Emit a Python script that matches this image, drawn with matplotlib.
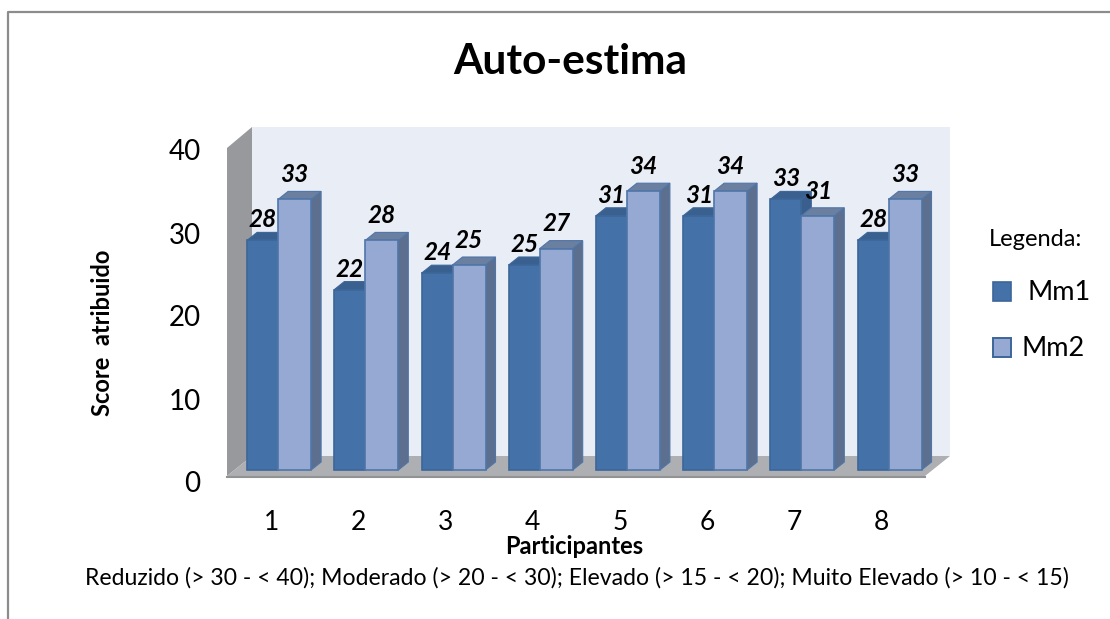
#!/usr/bin/env python3

import matplotlib
matplotlib.use("Agg")
import matplotlib.pyplot as plt
from matplotlib.patches import Polygon, Rectangle

W, H = 1110, 619

participants = [1, 2, 3, 4, 5, 6, 7, 8]
mm1 = [28, 22, 24, 25, 31, 31, 33, 28]
mm2 = [33, 28, 25, 27, 34, 34, 31, 33]
y_ticks = [0, 10, 20, 30, 40]

title = "Auto-estima"
x_title = "Participantes"
y_title = "Score  atribuido"
footnote = "Reduzido (> 30 - < 40); Moderado (> 20 - < 30); Elevado (> 15 - < 20); Muito Elevado (> 10 - < 15)"
legend_title = "Legenda:"
series_names = ["Mm1", "Mm2"]

FONT = "Lato"
plt.rcParams["font.family"] = [FONT, "DejaVu Sans"]

# pixel sizes
PX_UNIT_X = 87.2
PX_UNIT_Y = 8.2
DEPTH_X = 10
DEPTH_Y = 8
BAR_W1 = 31 / PX_UNIT_X
BAR_W2 = 33 / PX_UNIT_X

fig = plt.figure(figsize=(W / 100, H / 100), dpi=100)
fig.patch.set_facecolor("white")


def px_axes(left, top, right, bottom, **kw):
    # axes placed with pixel coordinates of the picture
    return fig.add_axes([left / W, 1 - bottom / H, (right - left) / W, (bottom - top) / H], **kw)


# background layer in pixels: frame and 3d walls
bg = px_axes(0, 0, W, H)
bg.set_xlim(0, W)
bg.set_ylim(H, 0)
bg.axis("off")
bg.plot([7.5, 7.5, W], [H, 12, 12], color="#8c8c8c", lw=1.6)
bg.add_patch(Polygon([(252, 127), (950, 127), (950, 456), (252, 456)], fc="#e9edf6", ec="none"))
bg.add_patch(Polygon([(227, 148), (252, 127), (252, 456), (227, 476)], fc="#97999c", ec="none"))
bg.add_patch(Polygon([(227, 476), (252, 456), (950, 456), (925, 476)], fc="#adafb2", ec="none"))
bg.plot([227, 925], [476.5, 476.5], color="#909294", lw=1.5)

# data layer, one x unit is one participant, y is the score
ax = px_axes(234.5, 142, 932.1, 470)
ax.patch.set_alpha(0)
ax.set_xlim(0.5, 8.5)
ax.set_ylim(0, 40)
for s in ax.spines.values():
    s.set_visible(False)
ax.set_yticks([])
ax.set_xticks([p - 0.08 for p in participants])
ax.set_xticklabels(participants, fontsize=19, color="black")
ax.tick_params(axis="x", length=0, pad=28.5)

dx = DEPTH_X / PX_UNIT_X
dy = DEPTH_Y / PX_UNIT_Y


def draw_bar(x0, w, v, front, side, top, edge):
    base = [(x0 + w, 0), (x0 + w + dx, dy), (x0 + w + dx, v + dy), (x0 + w, v)]
    ax.add_patch(Polygon(base, fc=side, ec=edge, lw=0.8, clip_on=False))
    lid = [(x0, v), (x0 + dx, v + dy), (x0 + w + dx, v + dy), (x0 + w, v)]
    ax.add_patch(Polygon(lid, fc=top, ec=edge, lw=0.8, clip_on=False))
    ax.add_patch(Rectangle((x0, 0), w, v, fc=front, ec=edge, lw=1.2, clip_on=False))


for p, a, b in zip(participants, mm1, mm2):
    draw_bar(p - BAR_W1, BAR_W1, a, "#4472a8", "#3a5f8e", "#3a6090", "#3c6699")
    draw_bar(p, BAR_W2, b, "#95a9d3", "#5d6f8f", "#6b7fa0", "#4f76a8")

for p, a, b in zip(participants, mm1, mm2):
    ax.text(p - BAR_W1 + 0.18, a + 1.1, str(a), ha="center", va="bottom", fontsize=17.5,
            fontweight="bold", fontstyle="italic", color="black", zorder=5)
    ax.text(p + 0.19, b + 1.6, str(b), ha="center", va="bottom", fontsize=17.5,
            fontweight="bold", fontstyle="italic", color="black", zorder=5)

# value axis labels sit on the front edge of the left wall
ay = px_axes(227, 150, 228, 482)
ay.patch.set_alpha(0)
ay.set_ylim(0, 40)
ay.set_xticks([])
ay.set_yticks(y_ticks)
ay.set_yticklabels(y_ticks, fontsize=20, color="black")
ay.tick_params(axis="y", length=0, pad=19)
for s in ay.spines.values():
    s.set_visible(False)

fig.text(570 / W, 1 - 62 / H, title, ha="center", va="center", fontsize=30.5, fontweight="bold")
fig.text(574 / W, 1 - 546 / H, x_title, ha="center", va="center", fontsize=17, fontweight="bold")
fig.text(103 / W, 1 - 333 / H, y_title, ha="center", va="center", rotation=90, fontsize=17, fontweight="bold")
fig.text(577 / W, 1 - 578 / H, footnote, ha="center", va="center", fontsize=16.6)

# legend
bg.text(1036, 240, legend_title, ha="center", va="center", fontsize=17)
bg.add_patch(Rectangle((993, 282), 18, 19, fc="#4472a8", ec="#3c6699", lw=1.2))
bg.add_patch(Rectangle((993, 338), 18, 19, fc="#95a9d3", ec="#3c6699", lw=1.4))
bg.text(1027, 292, series_names[0], ha="left", va="center", fontsize=19.5)
bg.text(1022, 348, series_names[1], ha="left", va="center", fontsize=19.5)

fig.savefig("out.png", dpi=100)
